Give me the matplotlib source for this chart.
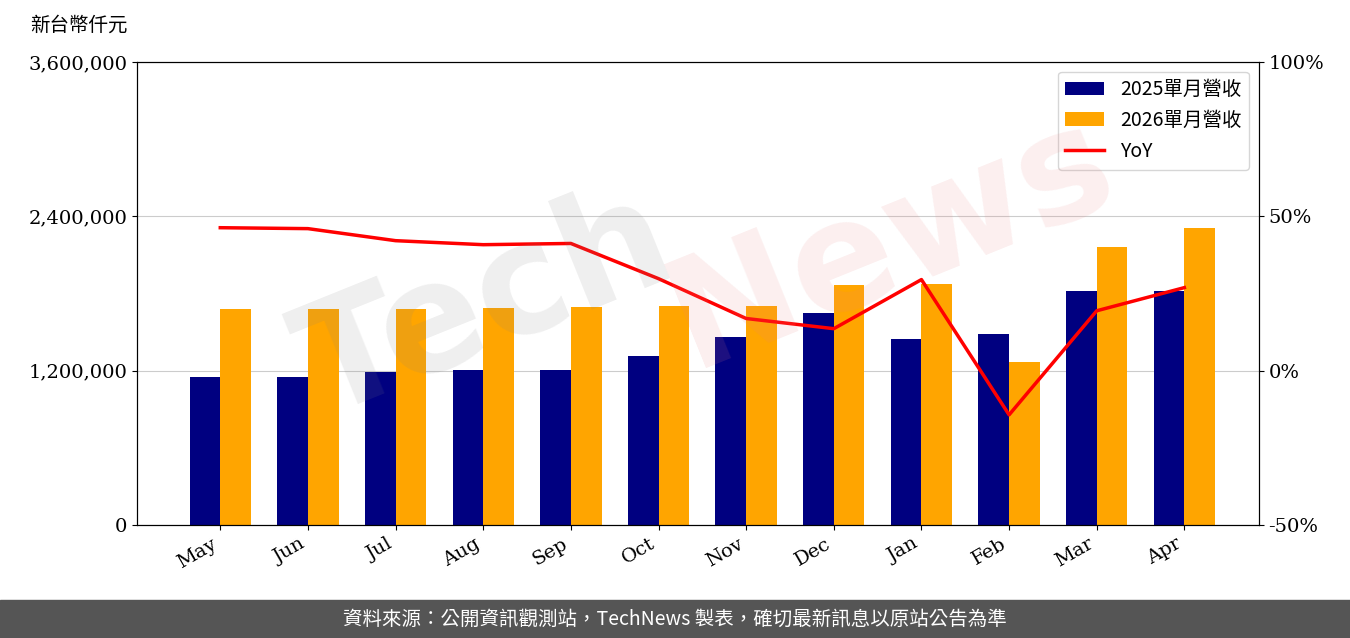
import matplotlib
matplotlib.use("Agg")
import matplotlib.pyplot as plt
import numpy as np

months = ["May","Jun","Jul","Aug","Sep","Oct","Nov","Dec","Jan","Feb","Mar","Apr"]
rev2025 = [1150000,1150000,1190000,1205000,1205000,1314000,1462000,1648000,1446000,1485000,1819000,1819000]
rev2026 = [1680000,1680000,1680000,1687000,1695000,1703000,1703000,1866000,1874000,1267000,2161000,2309000]
yoy = [46.3,46.0,42.1,40.8,41.2,29.8,16.9,13.6,29.5,-14.3,19.4,26.9]

cjk = ['Noto Sans CJK TC', 'DejaVu Sans']
plt.rcParams['font.family'] = ['DejaVu Serif', 'Noto Sans CJK TC']

fig = plt.figure(figsize=(13.5, 6.38), dpi=100)
ax = fig.add_axes([0.1015, 0.177, 0.831, 0.726])
x = np.arange(len(months))
w = 0.35
b1 = ax.bar(x - w/2, rev2025, w, color='#000080', label='2025單月營收', zorder=2)
b2 = ax.bar(x + w/2, rev2026, w, color='#FFA500', label='2026單月營收', zorder=2)
ax.set_ylim(0, 3600000)
ax.set_yticks([0, 1200000, 2400000, 3600000])
ax.set_yticklabels(['0', '1,200,000', '2,400,000', '3,600,000'], fontsize=14)
ax.set_xticks(x)
ax.set_xticklabels(months, rotation=30, ha='right', fontsize=14)
ax.set_xlim(-0.95, 11.85)
ax.grid(axis='y', color='#cccccc', zorder=0)
ax2 = ax.twinx()
l, = ax2.plot(x, yoy, color='red', lw=2.5, label='YoY')
ax2.set_ylim(-50, 100)
ax2.set_yticks([-50, 0, 50, 100])
ax2.set_yticklabels(['-50%', '0%', '50%', '100%'], fontsize=14)
leg = ax2.legend([b1, b2, l], ['2025單月營收', '2026單月營收', 'YoY'], loc='upper right',
                 prop={'family': cjk, 'size': 14})
fig.text(0.022, 0.96, '新台幣仟元', fontsize=14, family=cjk, va='center')
fig.text(0.36, 0.52, 'Tech', fontsize=110, color='gray', alpha=0.13, rotation=22,
         ha='center', va='center', family='DejaVu Sans', fontweight='bold')
fig.text(0.66, 0.62, 'News', fontsize=110, color='#e88080', alpha=0.13, rotation=22,
         ha='center', va='center', family='DejaVu Sans', fontweight='bold')
fig.patches.append(plt.Rectangle((0, 0), 1, 0.06, transform=fig.transFigure, color='#555555'))
fig.text(0.5, 0.03, '資料來源：公開資訊觀測站，TechNews 製表，確切最新訊息以原站公告為準',
         color='white', fontsize=14, family=cjk, ha='center', va='center')
fig.savefig('out.png')
